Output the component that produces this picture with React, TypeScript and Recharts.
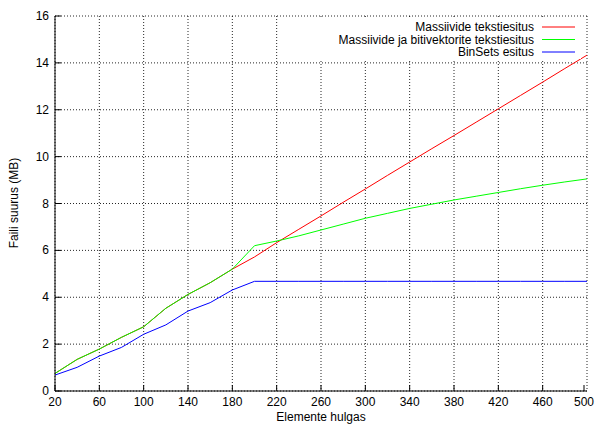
import React from 'react';
import { LineChart, Line, XAxis, YAxis, CartesianGrid, Legend } from 'recharts';

// Number of elements (x axis)
const xValues = [20, 40, 60, 80, 100, 120, 140, 160, 180, 200, 220, 240, 260, 280, 300, 320, 340, 360, 380, 400, 420, 440, 460, 480, 500];

// File size in MB for each representation
const textArrays = [0.75, 1.35, 1.79, 2.29, 2.74, 3.53, 4.12, 4.62, 5.2, 5.72, 6.33, 6.9, 7.47, 8.05, 8.62, 9.2, 9.77, 10.34, 10.9, 11.47, 12.04, 12.61, 13.18, 13.76, 14.33];
const textArraysBitvectors = [0.75, 1.35, 1.79, 2.29, 2.74, 3.53, 4.12, 4.62, 5.2, 6.2, 6.4, 6.62, 6.87, 7.12, 7.37, 7.58, 7.79, 7.97, 8.15, 8.31, 8.47, 8.63, 8.78, 8.92, 9.05];
const binSets = [0.68, 1.01, 1.49, 1.86, 2.42, 2.82, 3.41, 3.77, 4.31, 4.68, 4.68, 4.68, 4.68, 4.68, 4.68, 4.68, 4.68, 4.68, 4.68, 4.68, 4.68, 4.68, 4.68, 4.68, 4.68];

const xTicks = [20, 60, 100, 140, 180, 220, 260, 300, 340, 380, 420, 460, 500];
const yTicks = [0, 2, 4, 6, 8, 10, 12, 14, 16];

const seriesNames = ['Massiivide tekstiesitus', 'Massiivide ja bitivektorite tekstiesitus', 'BinSets esitus'];
const seriesColors = ['#ff0000', '#00ff00', '#0000ff'];

const xTitle = 'Elemente hulgas';
const yTitle = 'Faili suurus (MB)';

const data = xValues.map((x, i) => ({
  x,
  a: textArrays[i],
  b: textArraysBitvectors[i],
  c: binSets[i],
}));

const FONT = '"Liberation Sans", Arial, Helvetica, sans-serif';
const FS = 12;
const TICK = 6;

const BottomTick = (props: any) => {
  const { x, y, payload } = props;
  return (
    <g>
      <line x1={x} y1={y} x2={x} y2={y - TICK} stroke="#000" />
      <text x={x} y={y + 15} textAnchor="middle" fontSize={FS} fontFamily={FONT} fill="#000">
        {payload.value}
      </text>
    </g>
  );
};

const TopTick = (props: any) => {
  const { x, y } = props;
  return <line x1={x} y1={y} x2={x} y2={y + TICK} stroke="#000" />;
};

const LeftTick = (props: any) => {
  const { x, y, payload } = props;
  return (
    <g>
      <line x1={x} y1={y} x2={x + TICK} y2={y} stroke="#000" />
      <text x={x - 6} y={y + 4} textAnchor="end" fontSize={FS} fontFamily={FONT} fill="#000">
        {payload.value}
      </text>
    </g>
  );
};

const RightTick = (props: any) => {
  const { x, y } = props;
  return <line x1={x} y1={y} x2={x - TICK} y2={y} stroke="#000" />;
};

const KeyBox = () => (
  <svg width={276} height={42} style={{ display: 'block', background: '#fff' }}>
    {seriesNames.map((name, i) => {
      const cy = 10 + i * 12.5;
      return (
        <g key={name}>
          <text x={229} y={cy + 4} textAnchor="end" fontSize={FS} fontFamily={FONT} fill="#000">
            {name}
          </text>
          <line x1={237} y1={cy} x2={270} y2={cy} stroke={seriesColors[i]} strokeWidth={1} />
        </g>
      );
    })}
  </svg>
);

export default function App() {
  return (
    <div style={{ position: 'absolute', left: 0, top: 0, width: 596, height: 424, background: '#fff' }}>
      <LineChart width={596} height={424} data={data} margin={{ top: 16, right: 9, bottom: 0, left: 0 }}>
        <CartesianGrid stroke="#000" strokeOpacity={0.85} strokeDasharray="1 2" />
        <XAxis
          dataKey="x"
          type="number"
          domain={[20, 500]}
          ticks={xTicks}
          height={33}
          tickSize={0}
          tickMargin={0}
          tick={<BottomTick />}
          axisLine={{ stroke: '#000' }}
          tickLine={false}
          allowDataOverflow
        />
        <XAxis
          xAxisId="top"
          orientation="top"
          dataKey="x"
          type="number"
          domain={[20, 500]}
          ticks={xTicks}
          height={0}
          tickSize={0}
          tickMargin={0}
          tick={<TopTick />}
          axisLine={{ stroke: '#000' }}
          tickLine={false}
        />
        <YAxis
          type="number"
          domain={[0, 16]}
          ticks={yTicks}
          width={55}
          tickSize={0}
          tickMargin={0}
          tick={<LeftTick />}
          axisLine={{ stroke: '#000' }}
          tickLine={false}
          allowDataOverflow
        />
        <YAxis
          yAxisId="right"
          orientation="right"
          type="number"
          domain={[0, 16]}
          ticks={yTicks}
          width={0}
          tickSize={0}
          tickMargin={0}
          tick={<RightTick />}
          axisLine={{ stroke: '#000' }}
          tickLine={false}
        />
        <Legend
          layout="vertical"
          align="center"
          verticalAlign="middle"
          content={<KeyBox />}
          wrapperStyle={{ left: 305, top: 17, width: 276, height: 42 }}
        />
        <Line dataKey="a" name={seriesNames[0]} stroke={seriesColors[0]} strokeWidth={1} dot={false} isAnimationActive={false} />
        <Line dataKey="b" name={seriesNames[1]} stroke={seriesColors[1]} strokeWidth={1} dot={false} isAnimationActive={false} />
        <Line dataKey="c" name={seriesNames[2]} stroke={seriesColors[2]} strokeWidth={1} dot={false} isAnimationActive={false} />
        <text x={321} y={421} textAnchor="middle" fontSize={FS} fontFamily={FONT} fill="#000">
          {xTitle}
        </text>
        <text x={18} y={203} textAnchor="middle" fontSize={FS} fontFamily={FONT} fill="#000" transform="rotate(-90 18 203)">
          {yTitle}
        </text>
      </LineChart>
    </div>
  );
}
